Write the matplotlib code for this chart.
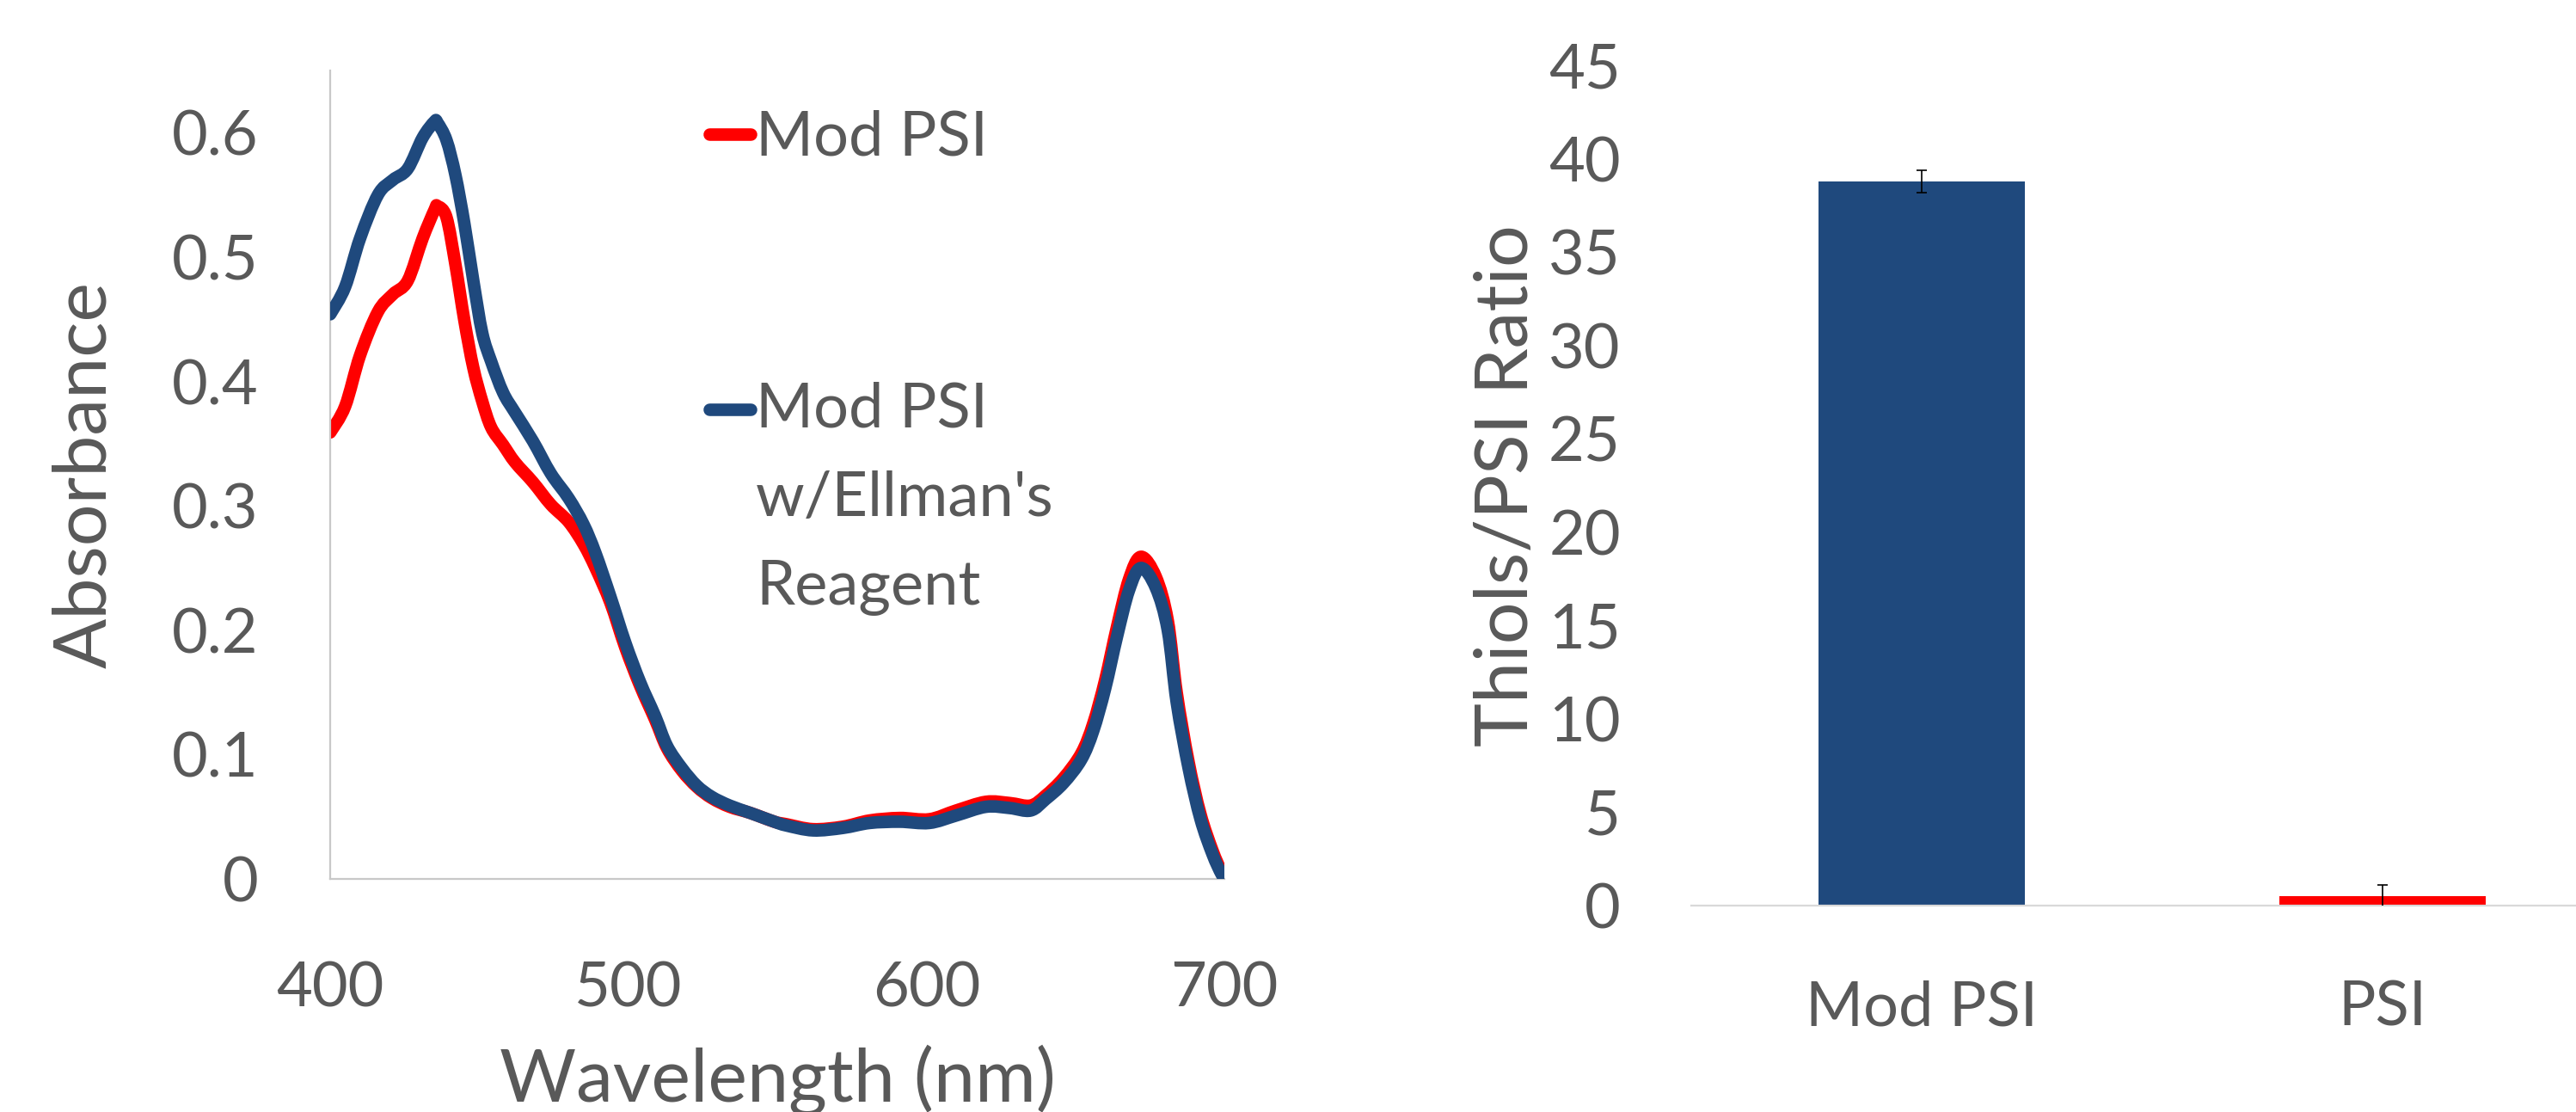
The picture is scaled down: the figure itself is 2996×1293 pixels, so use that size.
import matplotlib
matplotlib.use("Agg")
import matplotlib.pyplot as plt
from matplotlib.lines import Line2D
from matplotlib.path import Path
from matplotlib.patches import PathPatch

plt.rcParams['font.family'] = ['Lato', 'DejaVu Sans']

# ---------------- data ----------------
wavelength = [400, 405, 410, 416, 421, 426, 431, 435, 436, 439, 442, 445, 448, 451, 454,
              458, 462, 468, 474, 480, 485, 489, 494, 499, 504, 509, 513, 518, 523, 528,
              534, 541, 549, 553, 562, 572, 581, 591, 601, 610, 620, 628, 635, 640, 646,
              652, 656, 660, 664, 668, 672, 677, 681, 684, 688, 692, 696, 699, 700]

abs_mod_psi = [0.359, 0.380, 0.421, 0.456, 0.470, 0.481, 0.515, 0.538, 0.541, 0.532, 0.494,
               0.449, 0.411, 0.384, 0.363, 0.349, 0.335, 0.319, 0.301, 0.287, 0.269, 0.250,
               0.222, 0.186, 0.155, 0.128, 0.105, 0.087, 0.074, 0.065, 0.058, 0.053, 0.046,
               0.044, 0.040, 0.042, 0.047, 0.049, 0.048, 0.055, 0.062, 0.061, 0.059, 0.067,
               0.081, 0.101, 0.125, 0.160, 0.203, 0.241, 0.259, 0.243, 0.208, 0.150, 0.094,
               0.052, 0.023, 0.006, 0.003]

abs_mod_psi_ellman = [0.454, 0.476, 0.515, 0.550, 0.562, 0.571, 0.596, 0.609, 0.608, 0.594,
                      0.566, 0.527, 0.481, 0.439, 0.416, 0.391, 0.375, 0.352, 0.326, 0.306,
                      0.285, 0.262, 0.227, 0.190, 0.158, 0.131, 0.107, 0.089, 0.075, 0.066,
                      0.059, 0.053, 0.046, 0.043, 0.039, 0.041, 0.045, 0.046, 0.045, 0.051,
                      0.058, 0.057, 0.055, 0.064, 0.077, 0.096, 0.119, 0.153, 0.195, 0.232,
                      0.250, 0.234, 0.200, 0.142, 0.089, 0.048, 0.020, 0.004, 0.002]

series_labels = ["Mod PSI", "Mod PSI\nw/Ellman's\nReagent"]

x_ticks = [400, 500, 600, 700]
y_ticks_abs = [0, 0.1, 0.2, 0.3, 0.4, 0.5, 0.6]
y_ticklabels_abs = ["0", "0.1", "0.2", "0.3", "0.4", "0.5", "0.6"]

categories = ["Mod PSI", "PSI"]
ratio_values = [38.8, 0.5]
ratio_errors = [0.6, 0.6]
y_ticks_ratio = [0, 5, 10, 15, 20, 25, 30, 35, 40, 45]

# ---------------- style ----------------
TEXT = '#595959'
RED = '#FF0000'
BLUE = '#1F497D'
SPINE = '#C8C8C8'
TICK_FS = 52
LABEL_FS = 62
LW = 10.5


def smooth_path(xs, ys):
    """Excel-like 'smoothed line': Catmull-Rom segments expressed as cubic Beziers."""
    n = len(xs)
    verts = [(xs[0], ys[0])]
    codes = [Path.MOVETO]
    for i in range(n - 1):
        i0 = max(i - 1, 0)
        i3 = min(i + 2, n - 1)
        c1 = (xs[i] + (xs[i + 1] - xs[i0]) / 6.0, ys[i] + (ys[i + 1] - ys[i0]) / 6.0)
        c2 = (xs[i + 1] - (xs[i3] - xs[i]) / 6.0, ys[i + 1] - (ys[i3] - ys[i]) / 6.0)
        verts += [c1, c2, (xs[i + 1], ys[i + 1])]
        codes += [Path.CURVE4] * 3
    return Path(verts, codes)


fig = plt.figure(figsize=(29.96, 12.93), dpi=100)

# ---------------- left: absorbance spectrum ----------------
ax1 = fig.add_axes([0.1282, 0.2096, 0.3471, 0.7270])
for ys, col, z in [(abs_mod_psi, RED, 2), (abs_mod_psi_ellman, BLUE, 3)]:
    patch = PathPatch(smooth_path(wavelength, ys), facecolor='none', edgecolor=col,
                      lw=LW, capstyle='round', joinstyle='round', zorder=z)
    ax1.add_patch(patch)
ax1.set_xlim(400, 700)
ax1.set_ylim(0, 0.65)
ax1.set_xticks(x_ticks)
ax1.set_yticks(y_ticks_abs)
ax1.set_yticklabels(y_ticklabels_abs)
for s in ['top', 'right']:
    ax1.spines[s].set_visible(False)
for s in ['left', 'bottom']:
    ax1.spines[s].set_color(SPINE)
    ax1.spines[s].set_linewidth(1.6)
ax1.tick_params(axis='x', length=0, pad=69, labelsize=TICK_FS, labelcolor=TEXT)
ax1.tick_params(axis='y', length=0, pad=60, labelsize=TICK_FS, labelcolor=TEXT)
ax1.set_xlabel("Wavelength (nm)", fontsize=LABEL_FS, color=TEXT)
ax1.xaxis.set_label_coords(0.5, -0.205)
ax1.set_ylabel("Absorbance", fontsize=LABEL_FS, color=TEXT)
ax1.yaxis.set_label_coords(-0.236, 0.5)

# legend (Excel style: marker aligned with first line of label)
leg_y = [0.921, 0.5809]
leg_top = [0.952, 0.615]
for col, yl, yt, lab in zip([RED, BLUE], leg_y, leg_top, series_labels):
    ax1.add_line(Line2D([0.424, 0.470], [yl, yl], transform=ax1.transAxes, color=col,
                        lw=LW, solid_capstyle='round', clip_on=False))
    ax1.text(0.476, yt, lab, transform=ax1.transAxes, fontsize=TICK_FS, color=TEXT,
             ha='left', va='top', linespacing=1.72)

# ---------------- right: thiol ratio bars ----------------
ax2 = fig.add_axes([0.6565, 0.1856, 0.3578, 0.7556])
xpos = list(range(len(categories)))
ax2.bar(xpos, ratio_values, width=0.448, color=[BLUE, RED], zorder=2)
ax2.errorbar(xpos, ratio_values, yerr=ratio_errors, fmt='none', ecolor='black',
             elinewidth=1.2, capsize=4.3, capthick=1.2, zorder=3)
ax2.set_xlim(-0.5, 1.5)
ax2.set_ylim(0, 45)
ax2.set_yticks(y_ticks_ratio)
ax2.set_xticks(xpos)
ax2.set_xticklabels(categories)
for s in ['top', 'right', 'left']:
    ax2.spines[s].set_visible(False)
ax2.spines['bottom'].set_color('#D9D9D9')
ax2.spines['bottom'].set_linewidth(1.6)
ax2.tick_params(axis='x', length=0, pad=62, labelsize=TICK_FS, labelcolor=TEXT)
ax2.tick_params(axis='y', length=0, pad=59, labelsize=TICK_FS, labelcolor=TEXT)
ax2.set_ylabel("Thiols/PSI Ratio", fontsize=LABEL_FS, color=TEXT)
ax2.yaxis.set_label_coords(-0.163, 0.5)

fig.savefig("out.png", dpi=100)
